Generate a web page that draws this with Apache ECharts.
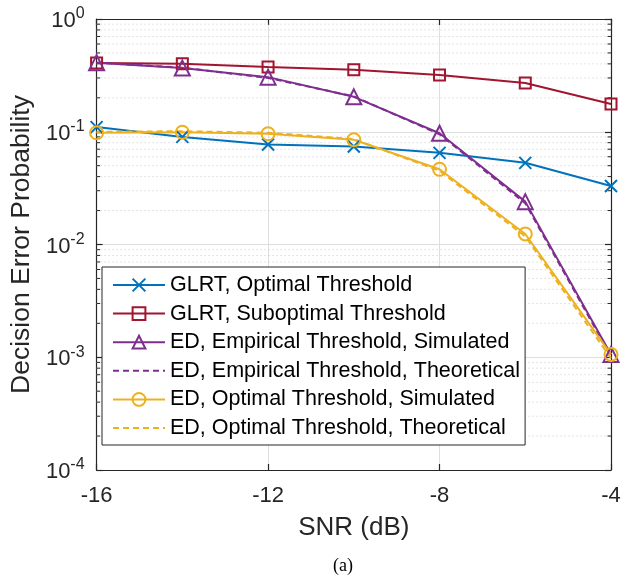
<!DOCTYPE html>
<html><head><meta charset="utf-8">
<script src="https://cdn.jsdelivr.net/npm/echarts@6/dist/echarts.min.js"></script>
<style>html,body{margin:0;padding:0;background:#fff}#c{width:625px;height:577px}</style>
</head><body><div id="c"></div>
<script>
const snr = [-16, -14, -12, -10, -8, -6, -4];
const glrtOpt = [0.110, 0.090, 0.077, 0.074, 0.065, 0.053, 0.033];
const glrtSub = [0.407, 0.400, 0.375, 0.354, 0.319, 0.271, 0.176];
const edEmpSim = [0.410, 0.367, 0.305, 0.204, 0.097, 0.0240, 0.00106];
const edEmpThe = [0.410, 0.370, 0.300, 0.206, 0.095, 0.0232, 0.00102];
const edOptSim = [0.098, 0.099, 0.096, 0.085, 0.0465, 0.0124, 0.00106];
const edOptThe = [0.100, 0.101, 0.098, 0.086, 0.0450, 0.0118, 0.00098];
const names = ['GLRT, Optimal Threshold','GLRT, Suboptimal Threshold','ED, Empirical Threshold, Simulated','ED, Empirical Threshold, Theoretical','ED, Optimal Threshold, Simulated','ED, Optimal Threshold, Theoretical'];
const xTicks = [-16, -12, -8, -4];
const yDecades = [1e-4, 1e-3, 1e-2, 1e-1, 1];
const minorMult = [2, 3, 4, 5, 6, 7, 8, 9];

const C = {blue:'#0072BD', red:'#A2142F', purple:'#7E2F8E', yellow:'#EDB120'};
const minorVals = [];
for (let i = 0; i < yDecades.length - 1; i++) minorMult.forEach(m => minorVals.push([xTicks[0], m * yDecades[i]]));

const zip = a => snr.map((x, i) => [x, a[i]]);
const font = 'Liberation Sans, Arial, sans-serif';
const chart = echarts.init(document.getElementById('c'), null, {renderer: 'canvas'});

function lineSeries(name, data, color, symbol, size, dashed) {
  const hidden = !symbol;
  return {
    name, type: 'line', data: zip(data), xAxisIndex: 0, yAxisIndex: 0,
    symbol: symbol || 'circle', symbolSize: size || 10, showSymbol: !hidden,
    lineStyle: {color, width: 2, type: dashed ? [6, 4] : 'solid'},
    itemStyle: hidden ? {color: 'rgba(0,0,0,0)', borderColor: 'rgba(0,0,0,0)', borderWidth: 0}
                      : {color: 'rgba(0,0,0,0)', borderColor: color, borderWidth: 2},
    emphasis: {disabled: true}, animation: false, z: 5
  };
}

const axisLineStyle = {color: '#262626', width: 1.2};
chart.setOption({
  animation: false,
  grid: {left: 96, right: 14, top: 19, bottom: 107, show: false},
  xAxis: [{
    type: 'value', min: xTicks[0], max: xTicks[xTicks.length - 1], interval: 4, position: 'bottom',
    axisLine: {show: true, lineStyle: axisLineStyle},
    axisTick: {show: true, inside: true, length: 6, lineStyle: axisLineStyle},
    axisLabel: {color: '#262626', fontSize: 22, fontFamily: font, margin: 15},
    splitLine: {show: true, lineStyle: {color: '#dedede', width: 1}},
    name: 'SNR (dB)', nameLocation: 'middle', nameGap: 45,
    nameTextStyle: {color: '#262626', fontSize: 26, fontFamily: font}
  }, {
    type: 'value', min: xTicks[0], max: xTicks[xTicks.length - 1], interval: 4, position: 'top',
    axisLine: {show: true, onZero: false, lineStyle: axisLineStyle},
    axisTick: {show: true, inside: true, length: 6, lineStyle: axisLineStyle},
    axisLabel: {show: false}, splitLine: {show: false}
  }],
  yAxis: [{
    type: 'log', logBase: 10, min: yDecades[0], max: yDecades[yDecades.length - 1], position: 'left',
    axisLine: {show: true, onZero: false, lineStyle: axisLineStyle},
    axisTick: {show: true, inside: true, length: 6, lineStyle: axisLineStyle},
    axisLabel: {
      color: '#262626', fontFamily: font, margin: 12,
      formatter: v => '{b|10}{s|' + Math.round(Math.log10(v)) + '}',
      rich: {b: {fontSize: 22, fontFamily: font, color: '#262626', lineHeight: 26, verticalAlign: 'bottom', padding: [6, 0, 0, 0]},
             s: {fontSize: 16, fontFamily: font, color: '#262626', lineHeight: 26, verticalAlign: 'top', padding: [0, 0, 8, 0]}}
    },
    splitLine: {show: true, lineStyle: {color: '#dedede', width: 1}},
    name: 'Decision Error Probability', nameLocation: 'middle', nameGap: 55, nameRotate: 90,
    nameTextStyle: {color: '#262626', fontSize: 26.5, fontFamily: font}
  }, {
    type: 'log', logBase: 10, min: yDecades[0], max: yDecades[yDecades.length - 1], position: 'right',
    axisLine: {show: true, onZero: false, lineStyle: axisLineStyle},
    axisTick: {show: true, inside: true, length: 6, lineStyle: axisLineStyle},
    axisLabel: {show: false}, splitLine: {show: false}
  }],
  legend: {
    orient: 'vertical', left: 102, top: 267, data: names,
    backgroundColor: '#fff', borderColor: '#262626', borderWidth: 1,
    padding: [7, 5, 6, 10], itemGap: 6.6, itemWidth: 52, itemHeight: 16,
    textStyle: {color: '#000', fontSize: 21.5, fontFamily: font, lineHeight: 22},
    selectedMode: false
  },
  series: [
    {
      type: 'custom', data: minorVals, xAxisIndex: 0, yAxisIndex: 0, silent: true, z: 1,
      renderItem: (params, api) => {
        const v = api.value(1);
        const p1 = api.coord([xTicks[0], v]), p2 = api.coord([xTicks[xTicks.length - 1], v]);
        return {type: 'group', children: [
          {type: 'line', shape: {x1: p1[0], y1: p1[1], x2: p2[0], y2: p2[1]},
           style: {stroke: '#c8c8c8', lineWidth: 1, lineDash: [1, 3]}},
          {type: 'line', shape: {x1: p1[0], y1: p1[1], x2: p1[0] + 3.5, y2: p1[1]},
           style: {stroke: '#262626', lineWidth: 1}},
          {type: 'line', shape: {x1: p2[0] - 3.5, y1: p2[1], x2: p2[0], y2: p2[1]},
           style: {stroke: '#262626', lineWidth: 1}}
        ]};
      }
    },
    lineSeries(names[0], glrtOpt, C.blue, 'path://M0,0L10,10M10,0L0,10', 12, false),
    lineSeries(names[1], glrtSub, C.red, 'rect', 11, false),
    lineSeries(names[2], edEmpSim, C.purple, 'triangle', 15, false),
    lineSeries(names[3], edEmpThe, C.purple, null, 10, true),
    lineSeries(names[4], edOptSim, C.yellow, 'circle', 13, false),
    lineSeries(names[5], edOptThe, C.yellow, null, 10, true)
  ],
  graphic: [{
    type: 'text', left: 333, top: 557,
    style: {text: '(a)', fontSize: 18, fontFamily: 'Liberation Serif, Times New Roman, serif', fill: '#000'}
  }]
});
</script></body></html>
